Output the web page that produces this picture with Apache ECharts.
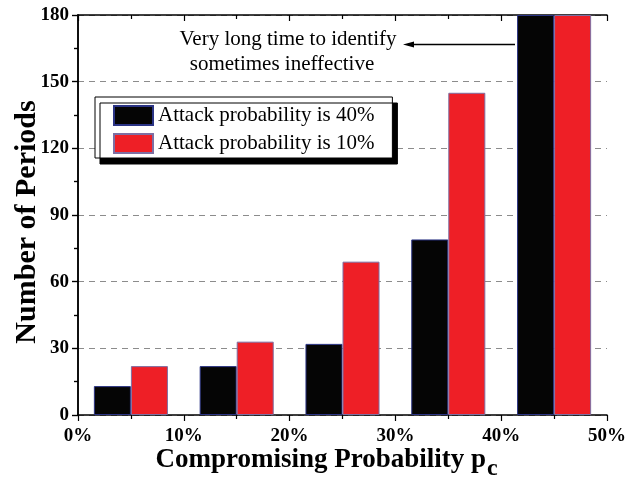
<!DOCTYPE html>
<html>
<head>
<meta charset="utf-8">
<script src="https://cdn.jsdelivr.net/npm/echarts@6/dist/echarts.min.js"></script>
<style>html,body{margin:0;padding:0;background:#fff;}#c{width:628px;height:481px;}</style>
</head>
<body>
<div id="c"></div>
<script>
// Data
var categories = ['5%', '15%', '25%', '35%', '45%'];
var attack40 = [13, 22, 32, 79, 180];
var attack10 = [22, 33, 69, 145, 180];
var seriesNames = ['Attack probability is 40%', 'Attack probability is 10%'];
var xTicks = [0, 10, 20, 30, 40, 50];
var yTicks = [0, 30, 60, 90, 120, 150, 180];

var serif = 'Liberation Serif';
var chart = echarts.init(document.getElementById('c'), null, {renderer: 'canvas'});
var axisLine = {show: true, lineStyle: {color: '#000', width: 1.5}};
var tickStyle = {color: '#000', width: 1.2};

var option = {
  animation: false,
  backgroundColor: '#fff',
  grid: {left: 78, right: 21, top: 15, bottom: 66, containLabel: false, outerBoundsMode: 'none'},
  legend: {
    orient: 'vertical', left: 95, top: 97,
    padding: [8, 18, 4, 18], itemGap: 7,
    itemWidth: 39, itemHeight: 19, icon: 'rect',
    backgroundColor: '#fff', borderColor: '#000', borderWidth: 1,
    shadowColor: '#000', shadowBlur: 0, shadowOffsetX: 5, shadowOffsetY: 6,
    textStyle: {fontFamily: serif, fontSize: 21, color: '#000'},
    data: seriesNames
  },
  xAxis: [
    {type: 'category', data: categories, show: false, boundaryGap: true},
    {type: 'value', position: 'bottom', min: xTicks[0], max: xTicks[xTicks.length - 1], interval: 10,
     axisLine: axisLine, splitLine: {show: false},
     axisTick: {show: true, inside: false, length: 6, lineStyle: tickStyle},
     minorTick: {show: true, splitNumber: 2, length: 4, lineStyle: tickStyle},
     axisLabel: {formatter: '{value}%', fontFamily: serif, fontWeight: 'bold', fontSize: 19, color: '#000', margin: 12},
     name: '{a|Compromising Probability p}{b|c}', nameLocation: 'middle', nameGap: 32, nameMoveOverlap: false,
     nameTextStyle: {
       padding: [0, 32, 0, 0],
       rich: {
         a: {fontFamily: serif, fontWeight: 'bold', fontSize: 27, color: '#000', verticalAlign: 'top', lineHeight: 34},
         b: {fontFamily: serif, fontWeight: 'bold', fontSize: 24, color: '#000', verticalAlign: 'bottom', lineHeight: 34, padding: [6, 0, 0, 1]}
       }
     }},
    {type: 'value', position: 'top', min: xTicks[0], max: xTicks[xTicks.length - 1], interval: 10,
     axisLine: axisLine, splitLine: {show: false}, axisLabel: {show: false},
     axisTick: {show: true, inside: true, length: 6, lineStyle: tickStyle},
     minorTick: {show: true, splitNumber: 2, length: 4, lineStyle: tickStyle}}
  ],
  yAxis: [
    {type: 'value', position: 'left', min: yTicks[0], max: yTicks[yTicks.length - 1], interval: 30,
     axisLine: axisLine,
     axisTick: {show: true, inside: false, length: 6, lineStyle: tickStyle},
     minorTick: {show: true, splitNumber: 2, length: 4, lineStyle: tickStyle},
     splitLine: {show: true, lineStyle: {color: '#8c8c8c', type: [6, 5], width: 1}},
     axisLabel: {fontFamily: serif, fontWeight: 'bold', fontSize: 19, color: '#000', margin: 9},
     name: 'Number of Periods', nameLocation: 'middle', nameGap: 36, nameRotate: 90, nameMoveOverlap: false,
     nameTextStyle: {fontFamily: serif, fontWeight: 'bold', fontSize: 30, color: '#000', padding: [0, 14, 0, 0]}},
    {type: 'value', position: 'right', min: yTicks[0], max: yTicks[yTicks.length - 1], interval: 30,
     axisLine: axisLine, splitLine: {show: false}, axisLabel: {show: false},
     axisTick: {show: true, inside: true, length: 6, lineStyle: tickStyle},
     minorTick: {show: true, splitNumber: 2, length: 4, lineStyle: tickStyle}}
  ],
  series: [
    {name: seriesNames[0], type: 'bar', xAxisIndex: 0, yAxisIndex: 0, data: attack40,
     barWidth: '35%', barGap: '0%',
     itemStyle: {color: '#050505', borderColor: '#2b3485', borderWidth: 1}},
    {name: seriesNames[1], type: 'bar', xAxisIndex: 0, yAxisIndex: 0, data: attack10,
     barWidth: '35%', barGap: '0%',
     itemStyle: {color: '#ee1f26', borderColor: '#7d6fa3', borderWidth: 1}}
  ],
  graphic: [
    {type: 'text', x: 288, y: 39, z: 100,
     style: {text: 'Very long time to identify', font: '21px "Liberation Serif"', fill: '#000', textAlign: 'center', textVerticalAlign: 'middle'}},
    {type: 'text', x: 282, y: 64, z: 100,
     style: {text: 'sometimes ineffective', font: '21px "Liberation Serif"', fill: '#000', textAlign: 'center', textVerticalAlign: 'middle'}},
    {type: 'line', z: 100, shape: {x1: 515, y1: 44.5, x2: 408, y2: 44.5}, style: {stroke: '#000', lineWidth: 1.3}},
    {type: 'polygon', z: 100, shape: {points: [[403, 44.5], [414, 41.5], [414, 47.5]]}, style: {fill: '#000'}}
  ]
};
chart.setOption(option);
</script>
</body>
</html>
